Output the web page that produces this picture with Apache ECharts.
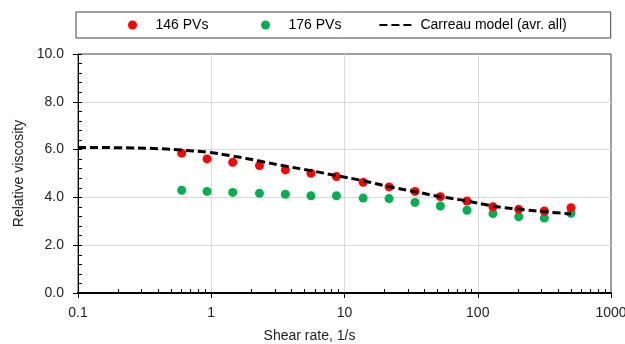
<!DOCTYPE html>
<html>
<head>
<meta charset="utf-8">
<script src="https://cdn.jsdelivr.net/npm/echarts@6/dist/echarts.min.js"></script>
<style>
  html, body {margin: 0; padding: 0; background: #fff;}
  #chart {width: 625px; height: 344px;}
</style>
</head>
<body>
<div id="chart"></div>
<script>
// shear rate (1/s) of the measured points
const shearRate = [0.6, 0.93, 1.45, 2.3, 3.6, 5.6, 8.7, 13.8, 21.6, 33.8, 52.4, 83, 130, 203, 316, 501]
const visc146 = [5.85, 5.61, 5.47, 5.33, 5.15, 5.01, 4.87, 4.63, 4.44, 4.25, 4.03, 3.85, 3.61, 3.50, 3.43, 3.57]
const visc176 = [4.30, 4.25, 4.21, 4.17, 4.13, 4.07, 4.07, 3.97, 3.95, 3.79, 3.64, 3.46, 3.32, 3.19, 3.14, 3.33]

// carreau fit
const modelRate = [0.1, 0.2, 0.4, 0.6, 0.93, 1.45, 2.3, 3.6, 5.6, 8.7, 13.8, 21.6, 33.8, 52.4, 83, 130, 203, 316, 501]
const modelVisc = [6.09, 6.08, 6.04, 5.98, 5.89, 5.73, 5.52, 5.31, 5.12, 4.91, 4.70, 4.45, 4.24, 4.03, 3.85, 3.64, 3.51, 3.40, 3.31]

const seriesNames = ['146 PVs', '176 PVs', 'Carreau model (avr. all)']

const font = 'Liberation Sans'
const noFill = 'rgba(0,0,0,0)'

const zip = (xs, ys) => xs.map((x, i) => [x, ys[i]])

// log minor ticks 2..9 in every decade
const minorX = []
;[0.1, 1, 10, 100].forEach(d => {
  for (let m = 2; m <= 9; m++) minorX.push(+(d * m).toPrecision(3))
})

const chart = echarts.init(document.getElementById('chart'), null, {renderer: 'canvas'})

chart.setOption({
  animation: false,
  textStyle: {fontFamily: font},
  grid: {
    left: 78, right: 14, top: 54, bottom: 51,
    show: true, borderColor: '#404040', borderWidth: 1,
    outerBoundsMode: 'none',
  },
  legend: {
    left: 76, top: 12, width: 600,
    padding: [6, 44, 6, 52],
    itemGap: 37,
    itemWidth: 36, itemHeight: 9,
    borderColor: '#404040', borderWidth: 1,
    // wider gap after the first item only
    formatter: name => name === seriesNames[0] ? name + '\u00a0\u00a0\u00a0\u00a0' : name,
    textStyle: {fontFamily: font, fontSize: 14, color: '#000'},
    data: [
      seriesNames[0],
      seriesNames[1],
      {name: seriesNames[2], itemStyle: {color: noFill, borderWidth: 0}},
    ],
  },
  xAxis: [{
    type: 'log', logBase: 10, min: 0.1, max: 1000,
    name: 'Shear rate, 1/s', nameLocation: 'middle', nameGap: 36,
    nameTextStyle: {fontFamily: font, fontSize: 14, color: '#222', padding: [0, 70, 0, 0]},
    axisLine: {lineStyle: {color: '#000', width: 2}},
    axisTick: {show: true, length: 5, lineStyle: {color: '#000'}},
    axisLabel: {fontFamily: font, fontSize: 14, color: '#222', margin: 13, formatter: v => String(v)},
    splitLine: {show: true, showMinLine: false, showMaxLine: false, lineStyle: {color: '#d9d9d9'}},
  }, {
    type: 'log', logBase: 10, min: 0.1, max: 1000, position: 'bottom',
    axisLine: {show: false},
    axisTick: {show: true, inside: true, length: 4, customValues: minorX, lineStyle: {color: '#000'}},
    axisLabel: {show: false},
    splitLine: {show: false},
  }],
  yAxis: [{
    type: 'value', min: 0, max: 10, interval: 2,
    name: 'Relative viscosity', nameLocation: 'middle', nameGap: 52,
    nameTextStyle: {fontFamily: font, fontSize: 14, color: '#222'},
    axisLine: {show: true, lineStyle: {color: '#000', width: 1}},
    axisTick: {show: true, length: 5, lineStyle: {color: '#000'}},
    axisLabel: {fontFamily: font, fontSize: 14, color: '#222', margin: 14, formatter: v => v.toFixed(1)},
    splitLine: {show: true, showMinLine: false, showMaxLine: false, lineStyle: {color: '#d9d9d9'}},
  }, {
    type: 'value', min: 0, max: 10, interval: 0.4, position: 'left',
    axisLine: {show: false},
    axisTick: {show: true, inside: true, length: 4, lineStyle: {color: '#000'}},
    axisLabel: {show: false},
    splitLine: {show: false},
  }],
  series: [
    {
      name: seriesNames[0], type: 'scatter',
      symbolSize: 9,
      itemStyle: {color: '#ff0000', opacity: 1},
      data: zip(shearRate, visc146),
      z: 3,
    },
    {
      name: seriesNames[1], type: 'scatter',
      symbolSize: 9,
      itemStyle: {color: '#00b050', opacity: 1},
      data: zip(shearRate, visc176),
      z: 2,
    },
    {
      name: seriesNames[2], type: 'line',
      smooth: true, showSymbol: false, symbol: 'none',
      lineStyle: {color: '#000', width: 3, type: [8, 4]},
      itemStyle: {color: noFill},
      data: zip(modelRate, modelVisc),
      z: 4,
    },
  ],
})
</script>
</body>
</html>
